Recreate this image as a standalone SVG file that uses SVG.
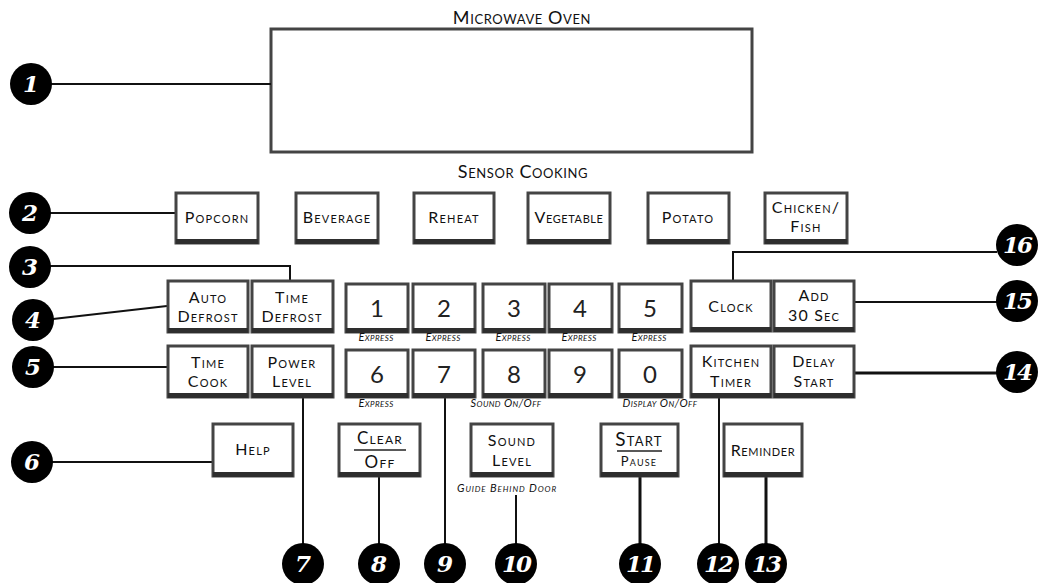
<svg xmlns="http://www.w3.org/2000/svg" width="1044" height="583" viewBox="0 0 1044 583">
<style>
.bg{fill:#fff}
.box{fill:#fff;stroke:#444;stroke-width:3}
.sh{fill:#2e2e2e}
.lbl{font-family:Lato,"Open Sans",sans-serif;font-variant:small-caps;font-size:16px;letter-spacing:1.2px;fill:#111;text-anchor:middle}
.big{font-family:Lato,"Open Sans",sans-serif;font-size:24px;fill:#222;text-anchor:middle}
.sub{font-family:Lato,"Open Sans",sans-serif;font-variant:small-caps;font-style:italic;font-size:11px;letter-spacing:0.4px;fill:#111;text-anchor:middle}
.title{font-family:Lato,"Open Sans",sans-serif;font-variant:small-caps;font-size:18px;letter-spacing:0.6px;fill:#111;text-anchor:middle}
.cl{fill:none;stroke:#111;stroke-width:2}
.clt{fill:none;stroke:#111;stroke-width:3}
.cc{fill:#000}
.cn{font-family:"DejaVu Serif",serif;font-style:italic;font-weight:bold;font-size:23px;fill:#fff;text-anchor:middle}
.sep{stroke:#222;stroke-width:1.5}
</style>
<rect class="bg" width="1044" height="583"/>

<g id="display">
<text class="title" x="522" y="24">Microwave Oven</text>
<rect class="box" x="271" y="29" width="481" height="123"/>
</g>
<text class="title" x="523" y="178">Sensor Cooking</text>

<g id="connectors">
<path class="cl" d="M51,84H271"/>
<path class="cl" d="M50,213H175"/>
<path class="cl" d="M50,266H290V280"/>
<path class="cl" d="M53,319L167,306"/>
<path class="cl" d="M50,367H167"/>
<path class="cl" d="M50,462H212"/>
<path class="cl" d="M303,397V544"/>
<path class="cl" d="M379,476V544"/>
<path class="cl" d="M445,397V544"/>
<path class="cl" d="M516,495V544"/>
<path class="clt" d="M640,476V544"/>
<path class="cl" d="M719,397V544"/>
<path class="clt" d="M766,476V544"/>
<path class="clt" d="M854,373H997"/>
<path class="cl" d="M854,302H997"/>
<path class="cl" d="M997,252H733V280"/>
</g>

<g id="btn-popcorn"><rect class="box" x="176" y="193" width="82" height="50"/><rect class="sh" x="176" y="239" width="82" height="5"/><text class="lbl" x="217" y="223">Popcorn</text></g>
<g id="btn-beverage"><rect class="box" x="296" y="193" width="82" height="50"/><rect class="sh" x="296" y="239" width="82" height="5"/><text class="lbl" x="337" y="223">Beverage</text></g>
<g id="btn-reheat"><rect class="box" x="414" y="193" width="80" height="50"/><rect class="sh" x="414" y="239" width="80" height="5"/><text class="lbl" x="454" y="223">Reheat</text></g>
<g id="btn-vegetable"><rect class="box" x="528" y="193" width="82" height="50"/><rect class="sh" x="528" y="239" width="82" height="5"/><text class="lbl" x="569" y="223" style="letter-spacing:0.6px">Vegetable</text></g>
<g id="btn-potato"><rect class="box" x="648" y="193" width="81" height="50"/><rect class="sh" x="648" y="239" width="81" height="5"/><text class="lbl" x="688" y="223">Potato</text></g>
<g id="btn-chicken"><rect class="box" x="765" y="193" width="82" height="50"/><rect class="sh" x="765" y="239" width="82" height="5"/><text class="lbl" x="806" y="213">Chicken/</text><text class="lbl" x="806" y="232">Fish</text></g>

<g id="btn-autodefrost"><rect class="box" x="168" y="281" width="80" height="51"/><rect class="sh" x="168" y="328" width="80" height="5"/><text class="lbl" x="208" y="303">Auto</text><text class="lbl" x="208" y="322">Defrost</text></g>
<g id="btn-timedefrost"><rect class="box" x="252" y="281" width="81" height="51"/><rect class="sh" x="252" y="328" width="81" height="5"/><text class="lbl" x="292" y="303">Time</text><text class="lbl" x="292" y="322">Defrost</text></g>
<g id="btn-timecook"><rect class="box" x="168" y="346" width="80" height="51"/><rect class="sh" x="168" y="393" width="80" height="5"/><text class="lbl" x="208" y="368">Time</text><text class="lbl" x="208" y="387">Cook</text></g>
<g id="btn-powerlevel"><rect class="box" x="252" y="346" width="81" height="51"/><rect class="sh" x="252" y="393" width="81" height="5"/><text class="lbl" x="292" y="368">Power</text><text class="lbl" x="292" y="387">Level</text></g>

<g id="key-1"><rect class="box" x="346" y="284" width="62" height="48"/><rect class="sh" x="346" y="328" width="62" height="5"/><text class="big" x="377" y="317">1</text><text class="sub" x="376" y="341">Express</text></g>
<g id="key-2"><rect class="box" x="413" y="284" width="62" height="48"/><rect class="sh" x="413" y="328" width="62" height="5"/><text class="big" x="444" y="317">2</text><text class="sub" x="443" y="341">Express</text></g>
<g id="key-3"><rect class="box" x="483" y="284" width="62" height="48"/><rect class="sh" x="483" y="328" width="62" height="5"/><text class="big" x="514" y="317">3</text><text class="sub" x="513" y="341">Express</text></g>
<g id="key-4"><rect class="box" x="549" y="284" width="63" height="48"/><rect class="sh" x="549" y="328" width="63" height="5"/><text class="big" x="580" y="317">4</text><text class="sub" x="579" y="341">Express</text></g>
<g id="key-5"><rect class="box" x="619" y="284" width="63" height="48"/><rect class="sh" x="619" y="328" width="63" height="5"/><text class="big" x="650" y="317">5</text><text class="sub" x="649" y="341">Express</text></g>
<g id="key-6"><rect class="box" x="346" y="350" width="62" height="47"/><rect class="sh" x="346" y="393" width="62" height="5"/><text class="big" x="377" y="383">6</text><text class="sub" x="376" y="407">Express</text></g>
<g id="key-7"><rect class="box" x="413" y="350" width="62" height="47"/><rect class="sh" x="413" y="393" width="62" height="5"/><text class="big" x="444" y="383">7</text></g>
<g id="key-8"><rect class="box" x="483" y="350" width="62" height="47"/><rect class="sh" x="483" y="393" width="62" height="5"/><text class="big" x="514" y="383">8</text><text class="sub" x="506" y="407">Sound On/Off</text></g>
<g id="key-9"><rect class="box" x="549" y="350" width="63" height="47"/><rect class="sh" x="549" y="393" width="63" height="5"/><text class="big" x="580" y="383">9</text></g>
<g id="key-0"><rect class="box" x="619" y="350" width="63" height="47"/><rect class="sh" x="619" y="393" width="63" height="5"/><text class="big" x="650" y="383">0</text><text class="sub" x="660" y="407">Display On/Off</text></g>

<g id="btn-clock"><rect class="box" x="691" y="281" width="80" height="50"/><rect class="sh" x="691" y="327" width="80" height="5"/><text class="lbl" x="731" y="312">Clock</text></g>
<g id="btn-add30"><rect class="box" x="774" y="281" width="80" height="50"/><rect class="sh" x="774" y="327" width="80" height="5"/><text class="lbl" x="814" y="301">Add</text><text class="lbl" x="814" y="321">30 Sec</text></g>
<g id="btn-kitchentimer"><rect class="box" x="691" y="346" width="80" height="51"/><rect class="sh" x="691" y="393" width="80" height="5"/><text class="lbl" x="731" y="367">Kitchen</text><text class="lbl" x="731" y="387">Timer</text></g>
<g id="btn-delaystart"><rect class="box" x="774" y="346" width="80" height="51"/><rect class="sh" x="774" y="393" width="80" height="5"/><text class="lbl" x="814" y="367">Delay</text><text class="lbl" x="814" y="387">Start</text></g>

<g id="btn-help"><rect class="box" x="213" y="424" width="80" height="52"/><rect class="sh" x="213" y="472" width="80" height="5"/><text class="lbl" x="253" y="455">Help</text></g>
<g id="btn-clearoff"><rect class="box" x="339" y="424" width="81" height="52"/><rect class="sh" x="339" y="472" width="81" height="5"/><text class="lbl" x="380" y="444" style="font-size:17px">Clear</text><line class="sep" x1="354" y1="450" x2="406" y2="450"/><text class="lbl" x="380" y="468" style="font-size:17px">Off</text></g>
<g id="btn-soundlevel"><rect class="box" x="471" y="424" width="82" height="52"/><rect class="sh" x="471" y="472" width="82" height="5"/><text class="lbl" x="512" y="446">Sound</text><text class="lbl" x="512" y="466">Level</text><text class="sub" x="507" y="492" style="letter-spacing:0.9px">Guide Behind Door</text></g>
<g id="btn-startpause"><rect class="box" x="601" y="424" width="77" height="52"/><rect class="sh" x="601" y="472" width="77" height="5"/><text class="lbl" x="639" y="446" style="font-size:19px">Start</text><line class="sep" x1="617" y1="451" x2="662" y2="451"/><text class="lbl" x="639" y="466" style="font-size:13px">Pause</text></g>
<g id="btn-reminder"><rect class="box" x="724" y="424" width="78" height="52"/><rect class="sh" x="724" y="472" width="78" height="5"/><text class="lbl" x="763" y="456" style="letter-spacing:0.6px">Reminder</text></g>

<g id="callout-1"><circle class="cc" cx="31" cy="84" r="21"/><text class="cn" x="31" y="92">1</text></g>
<g id="callout-2"><circle class="cc" cx="30" cy="213" r="21"/><text class="cn" x="30" y="221">2</text></g>
<g id="callout-3"><circle class="cc" cx="30" cy="267" r="21"/><text class="cn" x="30" y="275">3</text></g>
<g id="callout-4"><circle class="cc" cx="33" cy="320" r="21"/><text class="cn" x="33" y="328">4</text></g>
<g id="callout-5"><circle class="cc" cx="33" cy="367" r="21"/><text class="cn" x="33" y="375">5</text></g>
<g id="callout-6"><circle class="cc" cx="32" cy="462" r="21"/><text class="cn" x="32" y="470">6</text></g>
<g id="callout-7"><circle class="cc" cx="303" cy="564" r="21"/><text class="cn" x="303" y="572">7</text></g>
<g id="callout-8"><circle class="cc" cx="379" cy="564" r="21"/><text class="cn" x="379" y="572">8</text></g>
<g id="callout-9"><circle class="cc" cx="445" cy="564" r="21"/><text class="cn" x="445" y="572">9</text></g>
<g id="callout-10"><circle class="cc" cx="516" cy="564" r="21"/><text class="cn" x="516" y="572" style="letter-spacing:-2px">10</text></g>
<g id="callout-11"><circle class="cc" cx="640" cy="564" r="21"/><text class="cn" x="640" y="572" style="letter-spacing:-2px">11</text></g>
<g id="callout-12"><circle class="cc" cx="718" cy="564" r="21"/><text class="cn" x="718" y="572" style="letter-spacing:-2px">12</text></g>
<g id="callout-13"><circle class="cc" cx="766" cy="564" r="21"/><text class="cn" x="766" y="572" style="letter-spacing:-2px">13</text></g>
<g id="callout-14"><circle class="cc" cx="1017" cy="372" r="21"/><text class="cn" x="1017" y="380" style="letter-spacing:-2px">14</text></g>
<g id="callout-15"><circle class="cc" cx="1017" cy="301" r="21"/><text class="cn" x="1017" y="309" style="letter-spacing:-2px">15</text></g>
<g id="callout-16"><circle class="cc" cx="1017" cy="245" r="21"/><text class="cn" x="1017" y="253" style="letter-spacing:-2px">16</text></g>
</svg>
